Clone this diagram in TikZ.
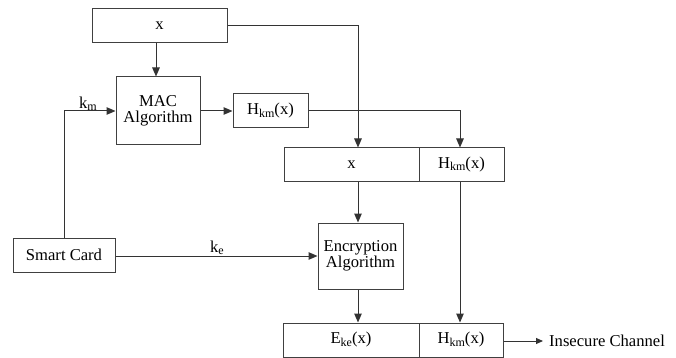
\documentclass[tikz,border=0pt]{standalone}
\usepackage{fontspec}
\setmainfont{Liberation Serif}
\usetikzlibrary{arrows.meta,calc}
\newcommand{\sbx}[1]{\raisebox{-0.3ex}{\fontsize{12}{12}\selectfont #1}}
\begin{document}
\begin{tikzpicture}[x=1pt,y=-1pt,
  font=\fontsize{16.6}{19}\selectfont,
  box/.style={draw=black!75,line width=1pt,rectangle,inner sep=0pt,align=center},
  conn/.style={draw=black!80,line width=1pt,-{Triangle[length=9pt,width=7.5pt]}},
]
\useasboundingbox (0,0) rectangle (676,358);
\node[box,minimum width=135,minimum height=34] (topx) at (159.5,26) {x};
\node[box,minimum width=84,minimum height=68] (mac) at (158,111) {MAC\\[-3pt]Algorithm};
\node[box,minimum width=75,minimum height=34] (hk1) at (270.5,111) {H\sbx{km}(x)};
\node[box,minimum width=135,minimum height=33] (x2) at (351.5,164.5) {x};
\node[box,minimum width=85,minimum height=33] (hk2) at (461.5,164.5) {H\sbx{km}(x)};
\node[box,minimum width=85,minimum height=66] (enc) at (360.5,256) {Encryption\\[-3pt]Algorithm};
\node[box,minimum width=102,minimum height=34] (sc) at (64,255) {Smart Card};
\node[box,minimum width=136,minimum height=34] (ek) at (351,340) {E\sbx{ke}(x)};
\node[box,minimum width=84,minimum height=34] (hk3) at (461,340) {H\sbx{km}(x)};
\node[anchor=west,inner sep=0pt] (ic) at (549,341) {Insecure Channel};
\coordinate (col) at (358,0);
\coordinate (colh) at (460,0);
\coordinate (kmx) at (64,0);
\coordinate (icend) at (543,341);
\node[inner sep=0pt] (kml) at (88,104) {k\sbx{m}};
\node[inner sep=0pt] (kel) at (217,248) {k\sbx{e}};
\draw[conn] (topx.south -| 156,0) -- (mac.north -| 156,0);
\draw[conn] (sc.north -| kmx) |- (mac.west);
\draw[conn] (mac.east) -- (hk1.west);
\draw[conn] (topx.east) -| (x2.north -| col);
\draw[conn] (hk1.east) -| (hk2.north -| colh);
\draw[conn] (x2.south -| col) -- (enc.north -| col);
\draw[conn] (sc.east |- 0,256) -- (enc.west |- 0,256);
\draw[conn] (enc.south -| col) -- (ek.north -| col);
\draw[conn] (hk2.south -| colh) -- (hk3.north -| colh);
\draw[draw=black!80,line width=1pt,-{Triangle[length=7pt,width=6pt]}] (hk3.east |- icend) -- (icend);
\end{tikzpicture}
\end{document}
